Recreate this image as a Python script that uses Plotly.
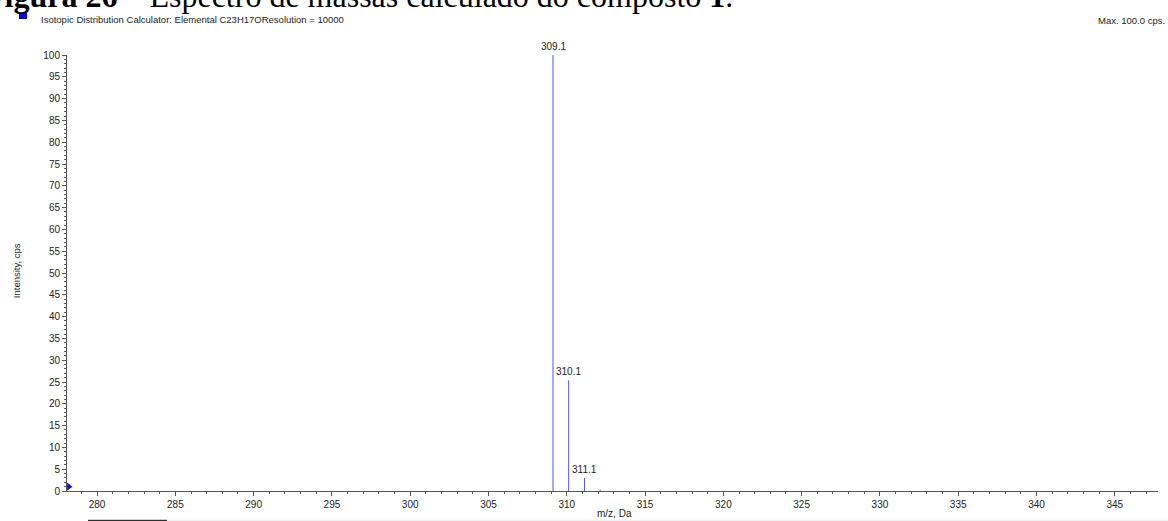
import plotly.graph_objects as go

# data
mz = [309.12, 310.12, 311.13, 312.13]
intensity = [100.0, 25.4, 3.0, 0.3]
peak_labels = ["309.1", "310.1", "311.1", ""]
x_ticks = [280, 285, 290, 295, 300, 305, 310, 315, 320, 325, 330, 335, 340, 345]
y_ticks = list(range(0, 101, 5))
x_range = [278.08, 347.76]
y_range = [0, 100]

# build stick spectrum from data
xs, ys = [], []
for m, v in zip(mz, intensity):
    xs += [m, m, None]
    ys += [0, v, None]

fig = go.Figure()
fig.add_trace(go.Scatter(x=xs, y=ys, mode="lines",
                         line=dict(color="rgb(85,85,240)", width=1),
                         hoverinfo="skip", showlegend=False))
# small blue marker at the left of the axis
fig.add_trace(go.Scatter(x=[x_range[0] + 0.12], y=[1.0], mode="markers",
                         marker=dict(symbol="triangle-right", size=7, color="#1010e0"),
                         cliponaxis=False, showlegend=False, hoverinfo="skip"))

annotations = []
for m, v, lab in zip(mz, intensity, peak_labels):
    if lab:
        annotations.append(dict(x=m, y=v, xref="x", yref="y", text=lab, showarrow=False,
                                yanchor="bottom", yshift=1,
                                font=dict(family="Arial, Liberation Sans", size=10, color="#222")))

font_axis = dict(family="Arial, Liberation Sans", size=10, color="#222")
axis_common = dict(showgrid=False, zeroline=False, showline=True, linecolor="#555",
                   linewidth=1, ticks="outside", tickcolor="#555", tickfont=font_axis,
                   automargin=False)

fig.update_layout(
    width=1168, height=521,
    margin=dict(l=67, r=10, t=55, b=30),
    paper_bgcolor="white", plot_bgcolor="white",
    xaxis=dict(range=x_range, tickvals=x_ticks, ticklen=4,
               minor=dict(dtick=1, ticks="outside", ticklen=2, tickcolor="#555"),
               **axis_common),
    yaxis=dict(range=y_range, tickvals=y_ticks, ticklen=4,
               minor=dict(dtick=1, ticks="outside", ticklen=2, tickcolor="#555"),
               **axis_common),
    annotations=annotations + [
        dict(xref="paper", yref="paper", x=-0.0769 + 0.0073 - 0.0075, y=1.090,
             xanchor="left", yanchor="bottom", showarrow=False,
             text="<b>Figura 26</b> – Espectro de massas calculado do composto <b>1</b>.",
             font=dict(family="Liberation Serif, Times New Roman", size=32, color="black")),
        dict(xref="paper", yref="paper", x=(39 - 67) / 1091, y=(490.7 - 20) / 435.7,
             xanchor="left", yanchor="middle", showarrow=False,
             text="Isotopic Distribution Calculator: Elemental C23H17OResolution = 10000",
             font=dict(family="Arial, Liberation Sans", size=9.5, color="#222")),
        dict(xref="paper", yref="paper", x=(1167 - 67) / 1091, y=(490.7 - 21) / 435.7,
             xanchor="right", yanchor="middle", showarrow=False,
             text="Max. 100.0 cps.",
             font=dict(family="Arial, Liberation Sans", size=9.5, color="#222")),
        dict(xref="paper", yref="paper", x=(16 - 67) / 1091, y=(490.7 - 271) / 435.7,
             xanchor="center", yanchor="middle", showarrow=False, textangle=-90,
             text="Intensity, cps", font=dict(family="Arial, Liberation Sans", size=9.5, color="#222")),
        dict(xref="paper", yref="paper", x=(614 - 67) / 1091, y=(490.7 - 513) / 435.7,
             xanchor="center", yanchor="middle", showarrow=False,
             text="m/z, Da", font=font_axis),
    ],
    shapes=[
        dict(type="rect", xref="paper", yref="paper",
             x0=(19 - 67) / 1091, x1=(27 - 67) / 1091,
             y0=(490.7 - 19) / 435.7, y1=(490.7 - 13) / 435.7,
             fillcolor="#0000ee", line=dict(width=0)),
        dict(type="line", xref="paper", yref="paper",
             x0=(88 - 67) / 1091, x1=(167 - 67) / 1091,
             y0=(490.7 - 520) / 435.7, y1=(490.7 - 520) / 435.7,
             line=dict(color="black", width=1)),
        dict(type="line", xref="paper", yref="paper",
             x0=(167 - 67) / 1091, x1=(1168 - 67) / 1091,
             y0=(490.7 - 520) / 435.7, y1=(490.7 - 520) / 435.7,
             line=dict(color="#eeeeee", width=1)),
    ],
)

fig.write_html("out.html", config={"displayModeBar": False},
               post_script="document.body.style.margin='0';")
